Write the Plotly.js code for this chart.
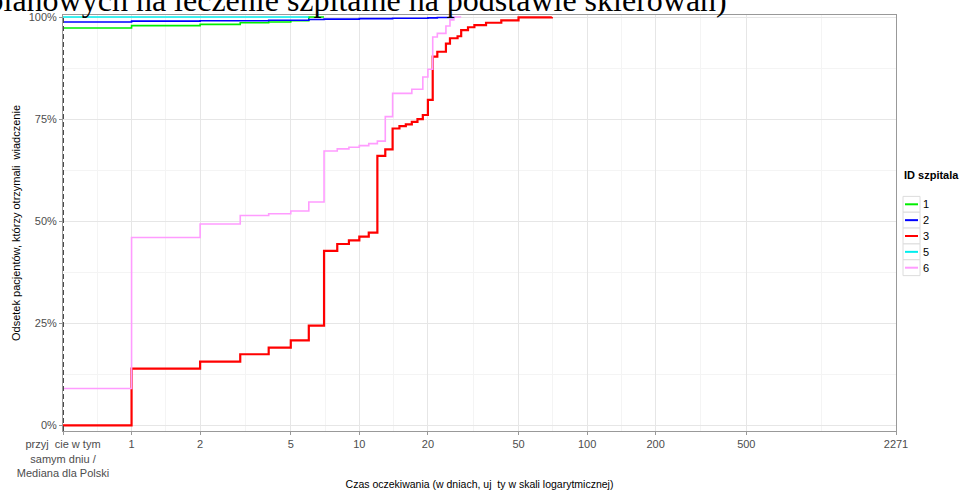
<!DOCTYPE html>
<html><head><meta charset="utf-8">
<script src="https://cdn.plot.ly/plotly-3.0.1.min.js"></script>
<style>html,body{margin:0;padding:0;background:#fff}#chart{width:960px;height:490px}</style>
</head><body><div id="chart"></div>
<script>
// ---- data (waiting time in days; 0.5 = same-day admission) ----
const hospitalIds = ['1', '2', '3', '5', '6'];

const days1  = [0.5, 1, 2, 3, 4, 5, 6, 7];
const share1 = [0.973, 0.979, 0.982, 0.986, 0.988, 0.991, 1.0, 1.0];

const days2  = [0.5, 1, 2, 4, 6, 7, 10, 14, 20, 22, 26];
const share2 = [0.988, 0.990, 0.991, 0.992, 0.994, 0.995, 0.996, 0.997, 0.998, 0.999, 1.0];

const days3  = [0.5, 1, 2, 3, 4, 5, 6, 7, 8, 9, 10, 11, 12, 13, 14, 15, 16, 17, 18, 19, 20, 21, 22, 24, 25, 27, 28, 30, 32, 36, 42, 50, 70];
const share3 = [0, 0.139, 0.156, 0.174, 0.190, 0.208, 0.244, 0.427, 0.444, 0.453, 0.462, 0.472, 0.660, 0.676, 0.727, 0.733, 0.737, 0.743, 0.750, 0.760, 0.797, 0.903, 0.915, 0.935, 0.948, 0.953, 0.968, 0.975, 0.980, 0.986, 0.992, 0.999, 1.0];

const days5  = [0.5, 6];
const share5 = [1.0, 1.0];

const days6  = [0.5, 1, 2, 3, 4, 5, 6, 7, 8, 9, 10, 11, 12, 13, 14, 17, 19, 20, 21, 22, 24, 25, 26, 28];
const share6 = [0.09, 0.46, 0.493, 0.514, 0.518, 0.525, 0.547, 0.672, 0.677, 0.681, 0.685, 0.690, 0.696, 0.756, 0.813, 0.823, 0.853, 0.872, 0.951, 0.96, 0.978, 0.993, 1.0, 1.0];

const medianPoland = 0.5;

const xTickVals = [0.5, 1, 2, 5, 10, 20, 50, 100, 200, 500, 2271];
const xTickText = ['przyj  cie w tym<br>samym dniu /<br>Mediana dla Polski', '1', '2', '5', '10', '20', '50', '100', '200', '500', '2271'];
const yTickVals = [0, 0.25, 0.5, 0.75, 1];
const yTickText = ['0%', '25%', '50%', '75%', '100%'];

// ---- styles ----
const seriesColors = ['#00ee00', '#0000ff', '#ff0000', '#00eeee', '#ff9cff'];
const seriesWidths = [1.6, 1.6, 2.2, 1.6, 1.6];
const FONT = 'Liberation Sans, Arial, sans-serif';

const daysAll = [days1, days2, days3, days5, days6];
const shareAll = [share1, share2, share3, share5, share6];

const traces = hospitalIds.map((id, i) => ({
  type: 'scatter', mode: 'lines', name: id,
  x: daysAll[i], y: shareAll[i],
  line: {shape: 'hv', color: seriesColors[i], width: seriesWidths[i]},
  showlegend: false, hoverinfo: 'skip'
}));

// minor grid: geometric midpoints between major ticks
const xMinor = xTickVals.slice(1).map((v, i) => Math.sqrt(v * xTickVals[i]));
const yMinor = yTickVals.slice(1).map((v, i) => (v + yTickVals[i]) / 2);

// plot area in pixels
const L = 63, R = 896, T = 15, B = 431;
const px2x = p => (p - L) / (R - L);
const py2y = p => (B - p) / (B - T);

const shapes = [{
  type: 'line', xref: 'x', yref: 'paper', x0: medianPoland, x1: medianPoland, y0: 0, y1: 1,
  line: {color: '#4a4a4a', width: 2, dash: '5px,3px'}
}];
const annotations = [{
  xref: 'paper', yref: 'paper', x: px2x(902), y: py2y(175), xanchor: 'left', yanchor: 'middle',
  text: '<b>ID szpitala</b>', showarrow: false, font: {family: FONT, size: 11, color: '#000'}
}];
const rowH = 15.85, row0 = 204.3;
hospitalIds.forEach((id, i) => {
  const c = row0 + i * rowH;
  shapes.push({type: 'rect', xref: 'paper', yref: 'paper', x0: px2x(903), x1: px2x(920),
    y0: py2y(c + rowH / 2), y1: py2y(c - rowH / 2), line: {color: '#dcdcdc', width: 1}, fillcolor: '#ffffff'});
  shapes.push({type: 'line', xref: 'paper', yref: 'paper', x0: px2x(905), x1: px2x(918),
    y0: py2y(c), y1: py2y(c), line: {color: seriesColors[i], width: 2}});
  annotations.push({xref: 'paper', yref: 'paper', x: px2x(921), y: py2y(c), xanchor: 'left', yanchor: 'middle',
    text: id, showarrow: false, font: {family: FONT, size: 11, color: '#000'}});
});

const layout = {
  width: 960, height: 490,
  margin: {l: L, r: 960 - R, t: T, b: 490 - B},
  paper_bgcolor: '#ffffff', plot_bgcolor: '#ffffff',
  font: {family: FONT, size: 11, color: '#000'},
  showlegend: false,
  title: {
    text: 'planowych na leczenie szpitalne na podstawie skierowań)',
    font: {family: 'Liberation Serif, Times New Roman, serif', size: 32, color: '#000'},
    xref: 'container', yref: 'container', x: 0.372, xanchor: 'center', y: 1.0, yanchor: 'middle'
  },
  xaxis: {
    type: 'log', range: [Math.log10(0.5), Math.log10(2271)],
    tickmode: 'array', tickvals: xTickVals, ticktext: xTickText,
    ticks: 'outside', ticklen: 3, tickcolor: '#999999',
    tickfont: {family: FONT, size: 11, color: '#4d4d4d'},
    showgrid: true, gridcolor: '#e6e6e6', gridwidth: 1,
    minor: {tickvals: xMinor, showgrid: true, gridcolor: '#f4f4f4', gridwidth: 1, ticks: ''},
    showline: true, linecolor: '#999999', linewidth: 1, mirror: true, zeroline: false,
    title: {text: 'Czas oczekiwania (w dniach, uj  ty w skali logarytmicznej)', font: {family: FONT, size: 10.5, color: '#000'}, standoff: 12}
  },
  yaxis: {
    range: [-0.014, 1.005],
    tickmode: 'array', tickvals: yTickVals, ticktext: yTickText,
    ticks: 'outside', ticklen: 3, tickcolor: '#999999',
    tickfont: {family: FONT, size: 11, color: '#4d4d4d'},
    showgrid: true, gridcolor: '#e6e6e6', gridwidth: 1,
    minor: {tickvals: yMinor, showgrid: true, gridcolor: '#f4f4f4', gridwidth: 1, ticks: ''},
    showline: true, linecolor: '#999999', linewidth: 1, mirror: true, zeroline: false,
    title: {text: 'Odsetek pacjentów, którzy otrzymali  wiadczenie', font: {family: FONT, size: 11, color: '#000'}, standoff: 5}
  },
  shapes: shapes,
  annotations: annotations
};

Plotly.newPlot('chart', traces, layout, {staticPlot: true, displayModeBar: false});
</script>
</body></html>
